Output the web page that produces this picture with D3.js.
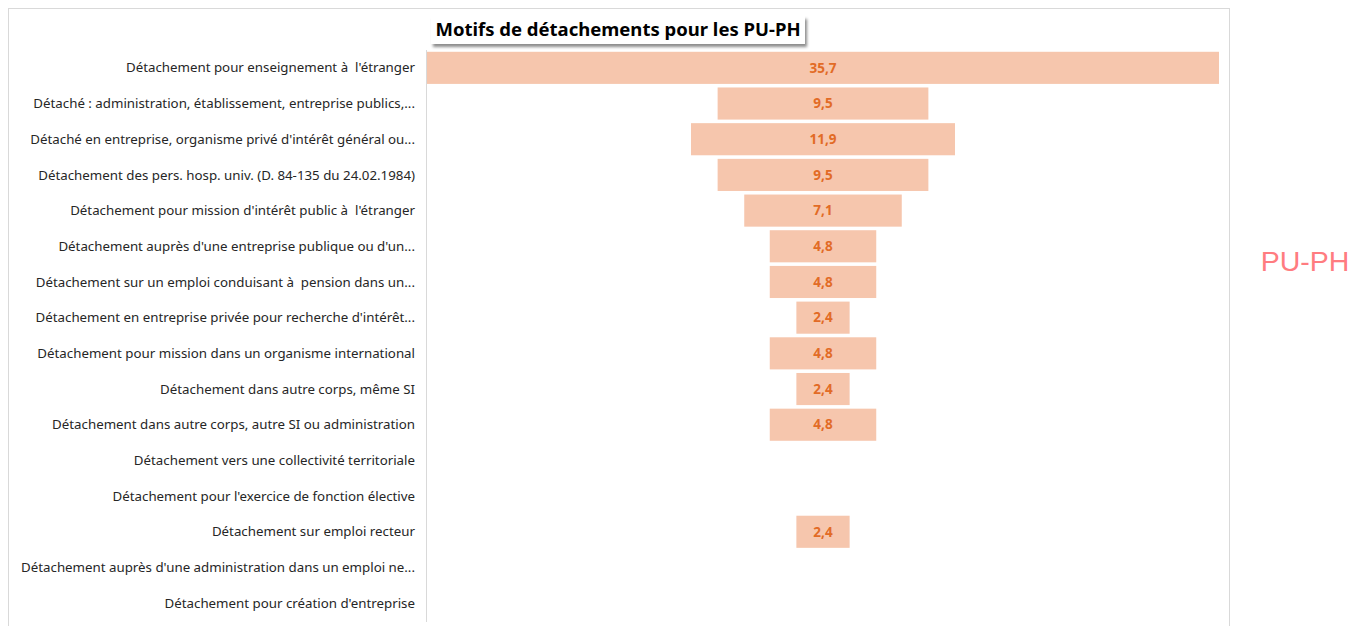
<!DOCTYPE html>
<html lang="fr">
<head>
<meta charset="UTF-8">
<title>Motifs de détachements pour les PU-PH</title>
<style>
  body { margin: 0; background: #fff; }
  svg text { font-family: 'Noto Sans', 'Open Sans', Arial, sans-serif; white-space: pre; }
</style>
</head>
<body>
<div id="chart"></div>
<script src="https://d3js.org/d3.v7.min.js"></script>
<script>
// categories (top to bottom) and their values (null = no bar)
var categories = [
  "Détachement pour enseignement à  l'étranger",
  "Détaché : administration, établissement, entreprise publics,...",
  "Détaché en entreprise, organisme privé d'intérêt général ou...",
  "Détachement des pers. hosp. univ. (D. 84-135 du 24.02.1984)",
  "Détachement pour mission d'intérêt public à  l'étranger",
  "Détachement auprès d'une entreprise publique ou d'un...",
  "Détachement sur un emploi conduisant à  pension dans un...",
  "Détachement en entreprise privée pour recherche d'intérêt...",
  "Détachement pour mission dans un organisme international",
  "Détachement dans autre corps, même SI",
  "Détachement dans autre corps, autre SI ou administration",
  "Détachement vers une collectivité territoriale",
  "Détachement pour l'exercice de fonction élective",
  "Détachement sur emploi recteur",
  "Détachement auprès d'une administration dans un emploi ne...",
  "Détachement pour création d'entreprise"
];
var values = [35.7, 9.5, 11.9, 9.5, 7.1, 4.8, 4.8, 2.4, 4.8, 2.4, 4.8, null, null, 2.4, null, null];
var seriesName = "PU-PH";
var title = "Motifs de détachements pour les PU-PH";

var W = 1364, H = 626;
var svg = d3.select("#chart").append("svg")
  .attr("width", W).attr("height", H);

// chart frame
svg.append("rect")
  .attr("x", 8.5).attr("y", 8.5)
  .attr("width", 1221).attr("height", 640)
  .attr("fill", "#fff").attr("stroke", "#d9d9d9");

var plotLeft = 427, plotRight = 1219;
var centre = (plotLeft + plotRight) / 2;

var y = d3.scaleBand()
  .domain(categories)
  .range([50, 621])
  .paddingInner(0.1)
  .paddingOuter(0.05);

// bar width scale: the largest value fills the plot width
var w = d3.scaleLinear()
  .domain([0, d3.max(values)])
  .range([0, plotRight - plotLeft]);

// category axis line
svg.append("line")
  .attr("x1", plotLeft - 0.5).attr("x2", plotLeft - 0.5)
  .attr("y1", 50).attr("y2", 622)
  .attr("stroke", "#d9d9d9");

// category labels
svg.append("g").selectAll("text")
  .data(categories)
  .join("text")
  .attr("x", 415)
  .attr("y", d => y(d) + y.bandwidth() / 2)
  .attr("dy", "0.35em")
  .attr("text-anchor", "end")
  .attr("font-size", 13.3)
  .attr("fill", "#262626")
  .text(d => d);

var rows = categories.map((c, i) => ({ cat: c, v: values[i] })).filter(d => d.v != null);

// funnel bars
svg.append("g").selectAll("rect")
  .data(rows)
  .join("rect")
  .attr("x", d => centre - w(d.v) / 2)
  .attr("y", d => y(d.cat))
  .attr("width", d => w(d.v))
  .attr("height", y.bandwidth())
  .attr("fill", "#f6c6ad");

// value labels
svg.append("g").selectAll("text")
  .data(rows)
  .join("text")
  .attr("x", centre)
  .attr("y", d => y(d.cat) + y.bandwidth() / 2)
  .attr("dy", "0.35em")
  .attr("text-anchor", "middle")
  .attr("font-size", 13.5)
  .attr("font-weight", "bold")
  .attr("fill", "#e26b26")
  .text(d => d3.format(".1f")(d.v).replace(".", ","));

// title with shadowed box
var defs = svg.append("defs");
var f = defs.append("filter").attr("id", "sh").attr("x", "-10%").attr("y", "-30%").attr("width", "120%").attr("height", "180%");
f.append("feDropShadow").attr("dx", 2).attr("dy", 3).attr("stdDeviation", 1.5).attr("flood-color", "#000").attr("flood-opacity", 0.45);

svg.append("rect")
  .attr("x", 431).attr("y", 16)
  .attr("width", 374).attr("height", 28)
  .attr("fill", "#fff")
  .attr("filter", "url(#sh)");

svg.append("text")
  .attr("x", 618).attr("y", 30)
  .attr("dy", "0.35em")
  .attr("text-anchor", "middle")
  .attr("font-size", 18.5)
  .attr("font-weight", "bold")
  .attr("fill", "#000")
  .text(title);

// series label to the right
svg.append("text")
  .attr("x", 1305).attr("y", 261)
  .attr("dy", "0.35em")
  .attr("text-anchor", "middle")
  .attr("font-size", 28.5)
  .style("font-family", "'Liberation Sans', Arial, sans-serif")
  .attr("fill", "#ff7c80")
  .text(seriesName);
</script>
</body>
</html>
